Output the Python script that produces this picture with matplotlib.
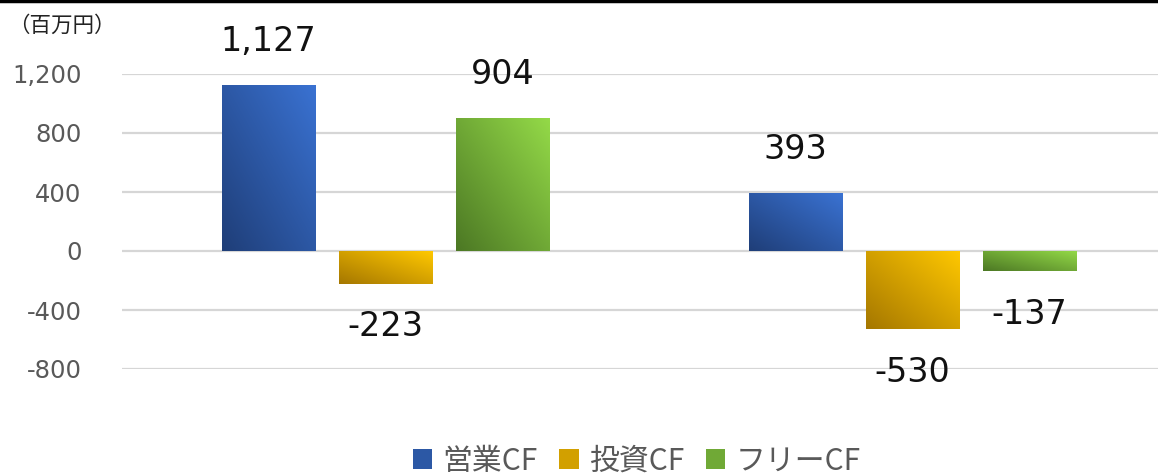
"""
Cash flow bar chart (operating / investing / free CF), two periods.
"""

import numpy as np
import matplotlib
matplotlib.use("Agg")
import matplotlib.pyplot as plt
import matplotlib.colors as colors
import matplotlib.lines as mlines
from matplotlib.patches import Rectangle, Patch

# ---------------------------
# data
# ---------------------------
series_names = ["営業CF", "投資CF", "フリーCF"]
operating_cf = [1127, 393]
investing_cf = [-223, -530]
free_cf = [904, -137]
yticks = [-800, -400, 0, 400, 800, 1200]
unit_label = "（百万円）"

# dark (bottom-left) -> light (top-right) gradient colours per series
grad_colors = [("#1f3e78", "#3a72d2"),
               ("#a57700", "#ffc800"),
               ("#4c7824", "#94da48")]

cjk = ["Noto Sans CJK JP", "DejaVu Sans"]
gray = "#595959"


def grad_bar(ax, x0, w, h, c_dark, c_light, n=64):
    '''draw one bar with a diagonal linear gradient'''
    patch = Rectangle((x0, 0), w, h, facecolor="none", edgecolor="none")
    ax.add_patch(patch)
    u = np.linspace(0, 1, n)
    U, V = np.meshgrid(u, u)
    T = (U + V) / 2.0
    a = np.array(colors.to_rgb(c_dark))
    b = np.array(colors.to_rgb(c_light))
    img = a[None, None, :] * (1 - T[..., None]) + b[None, None, :] * T[..., None]
    im = ax.imshow(img, origin="lower", aspect="auto", interpolation="bilinear",
                   extent=(x0, x0 + w, min(0, h), max(0, h)), zorder=2)
    im.set_clip_path(patch)


fig = plt.figure(figsize=(11.58, 4.75), dpi=100)
ax = fig.add_axes([122 / 1158, 106 / 475, 1054 / 1158, 295 / 475])

all_series = [operating_cf, investing_cf, free_cf]
x = np.arange(len(operating_cf))
width = 0.1765
step = 0.222

for i, vals in enumerate(all_series):
    off = (i - 1) * step
    for xi, v in zip(x, vals):
        grad_bar(ax, xi + off - width / 2, width, v, *grad_colors[i])
        dy = 31 if v >= 0 else -31
        ax.annotate(f"{v:,}", xy=(xi + off, v), xytext=(0, dy),
                    textcoords="offset points", ha="center", va="center",
                    fontsize=24, color="#111111", annotation_clip=False)

ax.set_xlim(-0.5, 1.5)
ax.set_ylim(-800, 1200)
ax.set_yticks(yticks)
ax.set_yticklabels([f"{t:,}" for t in yticks])
ax.set_xticks([])
ax.tick_params(axis="y", length=0, pad=29, labelsize=17.5, labelcolor=gray)
for s in ax.spines.values():
    s.set_visible(False)
ax.grid(axis="y", color="#d6d6d6", lw=1.6, zorder=0)
ax.set_axisbelow(True)

fig.text(8 / 1158, 1 - 26 / 475, unit_label, family=cjk, fontsize=15.5,
         color="#222222", ha="left", va="center")

# top frame line
fig.add_artist(mlines.Line2D([0, 1], [0.997, 0.997], color="black", lw=2.5))

handles = [Patch(facecolor=colors.to_hex((np.array(colors.to_rgb(a)) + np.array(colors.to_rgb(b))) / 2))
           for a, b in grad_colors]
leg = fig.legend(handles, series_names, loc="center", bbox_to_anchor=(0.55, 14 / 475),
                 ncol=3, frameon=False, prop={"family": cjk, "size": 21.5},
                 handlelength=0.65, handleheight=0.65, handletextpad=0.35,
                 columnspacing=0.72, borderpad=0)
for t in leg.get_texts():
    t.set_color(gray)

fig.savefig("out.png", dpi=100)
